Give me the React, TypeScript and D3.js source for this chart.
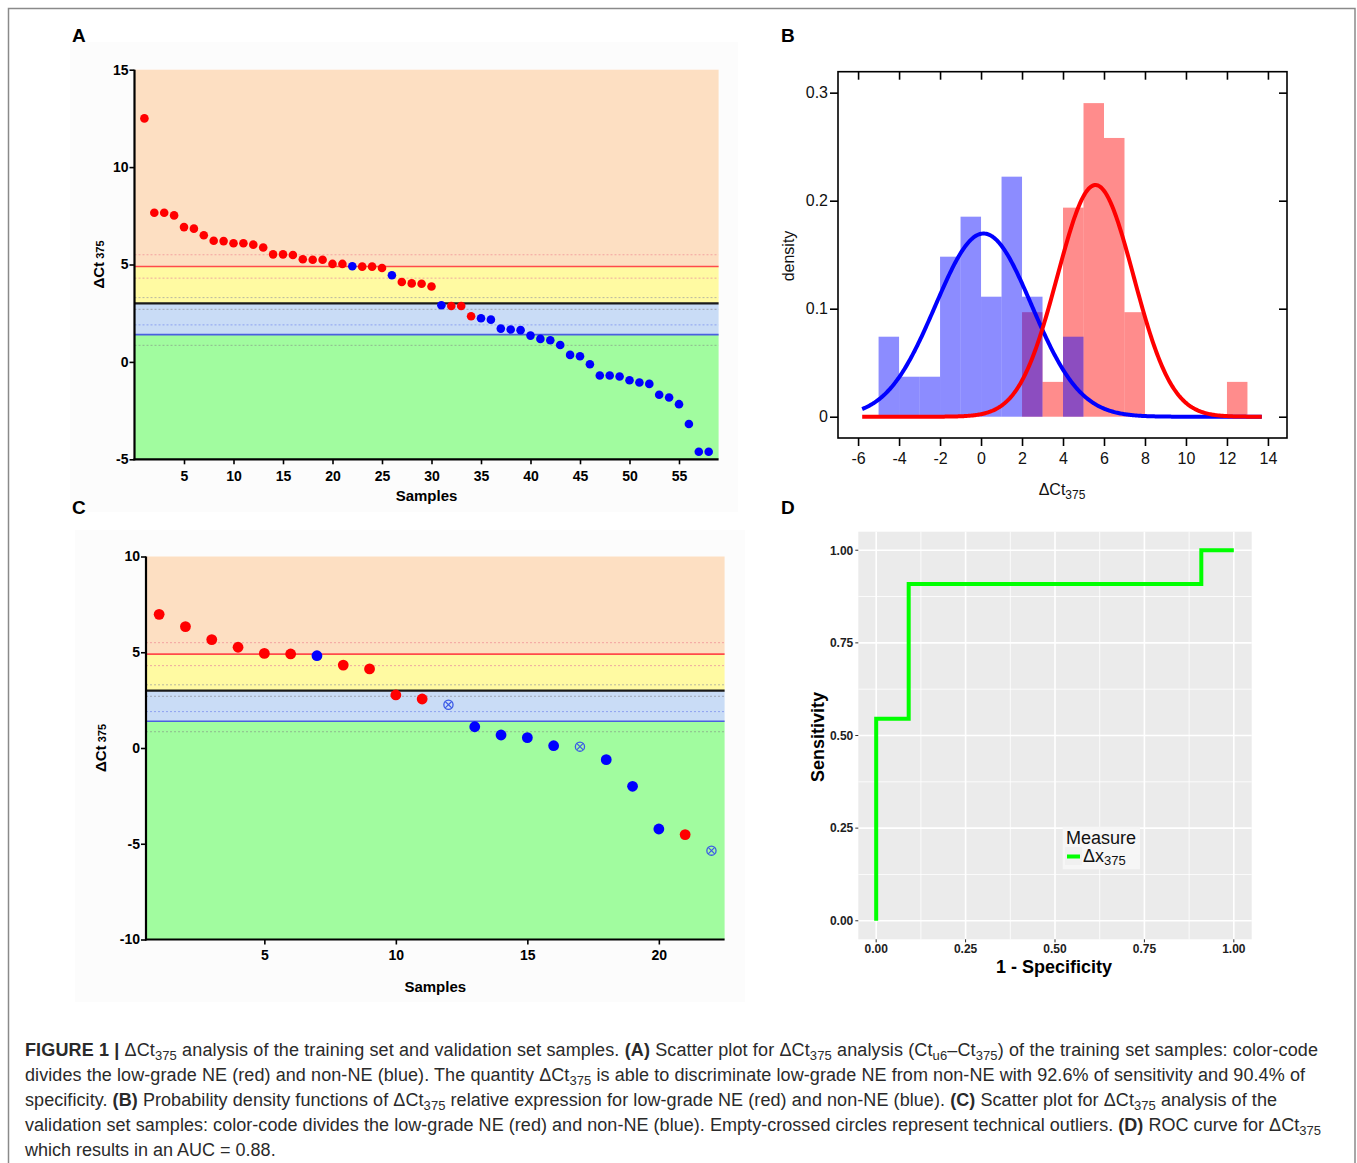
import React, { useEffect, useRef } from 'react'
import * as d3 from 'd3'

// panel A: training set, samples in plotted order (1 = low-grade NE, 0 = non-NE)
const trainValues = [12.5, 7.66, 7.66, 7.52, 6.92, 6.84, 6.5, 6.22, 6.2, 6.09, 6.09, 6.02, 5.87, 5.52, 5.52, 5.49,
  5.27, 5.24, 5.24, 5.03, 5.03, 4.91, 4.89, 4.89, 4.82, 4.45, 4.1, 4.03, 4.01, 3.87, 2.91, 2.87, 2.87, 2.34, 2.24,
  2.17, 1.71, 1.66, 1.63, 1.35, 1.18, 1.11, 0.87, 0.36, 0.29, -0.12, -0.7, -0.7, -0.75, -0.94, -1.06, -1.13, -1.69,
  -1.83, -2.17, -3.19, -4.61, -4.61]
const trainNE = [1, 1, 1, 1, 1, 1, 1, 1, 1, 1, 1, 1, 1, 1, 1, 1, 1, 1, 1, 1, 1, 0, 1, 1, 1, 0, 1, 1, 1, 1, 0, 1, 1, 1,
  0, 0, 0, 0, 0, 0, 0, 0, 0, 0, 0, 0, 0, 0, 0, 0, 0, 0, 0, 0, 0, 0, 0, 0]

// panel C: validation set
const valValues = [6.98, 6.34, 5.66, 5.26, 4.94, 4.91, 4.82, 4.33, 4.13, 2.77, 2.56, 2.26, 1.11, 0.68, 0.54, 0.12,
  0.07, -0.61, -2.0, -4.23, -4.52, -5.36]
const valClass = ['NE', 'NE', 'NE', 'NE', 'NE', 'NE', 'non', 'NE', 'NE', 'NE', 'NE', 'out', 'non', 'non', 'non', 'non',
  'out', 'non', 'non', 'non', 'NE', 'out']

// panel D: ROC steps
const rocFpr = [0, 0, 0.0909, 0.0909, 0.9091, 0.9091, 1]
const rocTpr = [0, 0.5455, 0.5455, 0.9091, 0.9091, 1, 1]

// cut-offs shared by A and C
const cutHigh = 4.9
const cutMain = 3.0
const cutLow = 1.4
const dottedLevels = [5.5, 4.3, 3.3, 2.7, 1.9, 0.85]
const dottedColors = ['#f3a3a0', '#eea8a0', '#b8b8a0', '#a0a6b4', '#8ea2f0', '#8fb98f']

const aXTicks = [5, 10, 15, 20, 25, 30, 35, 40, 45, 50, 55]
const aYTicks = [-5, 0, 5, 10, 15]
const cXTicks = [5, 10, 15, 20]
const cYTicks = [-10, -5, 0, 5, 10]
const bXTicks = [-6, -4, -2, 0, 2, 4, 6, 8, 10, 12, 14]
const bYTicks = [0, 0.1, 0.2, 0.3]
const dTicks = [0, 0.25, 0.5, 0.75, 1]
const dMinor = [0.125, 0.375, 0.625, 0.875]

const FONT = "'Liberation Sans', Arial, Helvetica, sans-serif"

type Seg = [string, string?]
const caption: Seg[][] = [
  [['FIGURE 1 |', 'b'], [' ΔCt'], ['375', 's'], [' analysis of the training set and validation set samples. '], ['(A)', 'b'],
    [' Scatter plot for ΔCt'], ['375', 's'], [' analysis (Ct'], ['u6', 's'], ['–Ct'], ['375', 's'],
    [') of the training set samples: color-code']],
  [['divides the low-grade NE (red) and non-NE (blue). The quantity ΔCt'], ['375', 's'],
    [' is able to discriminate low-grade NE from non-NE with 92.6% of sensitivity and 90.4% of']],
  [['specificity. '], ['(B)', 'b'], [' Probability density functions of ΔCt'], ['375', 's'],
    [' relative expression for low-grade NE (red) and non-NE (blue). '], ['(C)', 'b'], [' Scatter plot for ΔCt'],
    ['375', 's'], [' analysis of the']],
  [['validation set samples: color-code divides the low-grade NE (red) and non-NE (blue). Empty-crossed circles represent technical outliers. '],
    ['(D)', 'b'], [' ROC curve for ΔCt'], ['375', 's']],
  [['which results in an AUC = 0.88.']],
]
const captionWidths = [1293, 1280, 1252, 1296, 0]

function richText(sel: any, segs: Seg[], size: number, subSize: number, shift: number) {
  let prev = 0
  segs.forEach(([t, k]) => {
    const cur = k === 's' ? shift : 0
    sel.append('tspan')
      .attr('dy', cur - prev)
      .attr('font-size', k === 's' ? subSize : size)
      .attr('font-weight', k === 'b' ? 'bold' : 'normal')
      .text(t)
    prev = cur
  })
}

function drawScatter(svg: any, o: any) {
  const { x, y, values, color, xTicks, yTicks, r, labelX, samplesY, tickPad } = o
  const [x0, x1] = x.range()
  const [yb, yt] = y.range()
  const g = svg.append('g')

  g.append('rect').attr('x', o.bg[0]).attr('y', o.bg[1]).attr('width', o.bg[2]).attr('height', o.bg[3]).attr('fill', '#fcfcfc')

  const bands = [
    { from: y.domain()[1], to: cutHigh, fill: '#fddfc2' },
    { from: cutHigh, to: cutMain, fill: '#fffaa2' },
    { from: cutMain, to: cutLow, fill: '#c9dcf6' },
    { from: cutLow, to: y.domain()[0], fill: '#a1fc9f' },
  ]
  g.selectAll('rect.band').data(bands).join('rect')
    .attr('x', x0).attr('width', x1 - x0)
    .attr('y', (d: any) => y(d.from)).attr('height', (d: any) => y(d.to) - y(d.from))
    .attr('fill', (d: any) => d.fill)

  g.selectAll('line.dotted').data(dottedLevels).join('line')
    .attr('x1', x0).attr('x2', x1).attr('y1', (d: number) => y(d)).attr('y2', (d: number) => y(d))
    .attr('stroke', (_: any, i: number) => dottedColors[i]).attr('stroke-width', 1).attr('stroke-dasharray', '2,2')

  const solid = [{ v: cutHigh, c: '#ff4b4b', w: 1.6 }, { v: cutMain, c: '#1a1a1a', w: 2.2 }, { v: cutLow, c: '#4a5fe0', w: 1.6 }]
  g.selectAll('line.solid').data(solid).join('line')
    .attr('x1', x0).attr('x2', x1).attr('y1', (d: any) => y(d.v)).attr('y2', (d: any) => y(d.v))
    .attr('stroke', (d: any) => d.c).attr('stroke-width', (d: any) => d.w)

  values.forEach((v: number, i: number) => {
    const cx = x(i + 1), cy = y(v)
    const c = color(i)
    if (c === 'out') {
      g.append('circle').attr('cx', cx).attr('cy', cy).attr('r', r - 0.8).attr('fill', 'none')
        .attr('stroke', '#3b5ae6').attr('stroke-width', 1.3)
      const k = (r - 0.8) * 0.7
      g.append('path').attr('d', `M${cx - k},${cy - k}L${cx + k},${cy + k}M${cx - k},${cy + k}L${cx + k},${cy - k}`)
        .attr('stroke', '#3b5ae6').attr('stroke-width', 1.2)
    } else {
      g.append('circle').attr('cx', cx).attr('cy', cy).attr('r', r).attr('fill', c)
    }
  })

  const ay = g.append('g').attr('transform', `translate(${x0},0)`)
    .call(d3.axisLeft(y).tickValues(yTicks).tickSize(5).tickSizeOuter(0).tickPadding(1).tickFormat((d: any) => String(d)))
  const ax = g.append('g').attr('transform', `translate(0,${yb})`)
    .call(d3.axisBottom(x).tickValues(xTicks).tickSize(5).tickSizeOuter(0).tickPadding(tickPad).tickFormat((d: any) => String(d)))
  ;[ay, ax].forEach((a: any) => {
    a.select('.domain').attr('stroke', '#000').attr('stroke-width', 2.2)
    a.selectAll('.tick line').attr('stroke', '#000').attr('stroke-width', 1.6)
    a.selectAll('text').attr('font-family', FONT).attr('font-weight', 'bold').attr('font-size', 14).attr('fill', '#000')
  })
  ay.select('.domain').attr('d', `M0,${yb + 1}V${yt}`)
  ax.select('.domain').attr('d', `M${x0 - 1},0H${x1}`)

  const yl = g.append('text').attr('transform', `translate(${labelX},${(yb + yt) / 2}) rotate(-90)`)
    .attr('text-anchor', 'middle').attr('font-family', FONT).attr('font-weight', 'bold').attr('fill', '#000')
  yl.append('tspan').attr('font-size', 15).text('ΔCt')
  yl.append('tspan').attr('font-size', 11).text(' 375')

  g.append('text').attr('x', (x0 + x1) / 2).attr('y', samplesY).attr('text-anchor', 'middle')
    .attr('font-family', FONT).attr('font-weight', 'bold').attr('font-size', 15).text('Samples')
}

export default function App() {
  const svgRef = useRef<SVGSVGElement>(null)

  useEffect(() => {
    const svg = d3.select(svgRef.current)
    svg.selectAll('*').remove()

    svg.append('rect').attr('x', 8.5).attr('y', 8.5).attr('width', 1346.5).attr('height', 1170)
      .attr('fill', '#fff').attr('stroke', '#8a8a8a').attr('stroke-width', 1.5)

    // ---- A
    const xA = d3.scaleLinear().domain([0, 59]).range([134.5, 718.6])
    const yA = d3.scaleLinear().domain([-5, 15]).range([459.3, 69.7])
    drawScatter(svg, {
      x: xA, y: yA, values: trainValues, color: (i: number) => (trainNE[i] ? '#ff0000' : '#0000ff'),
      xTicks: aXTicks, yTicks: aYTicks, r: 4.3, labelX: 104, samplesY: 501, tickPad: 7,
      bg: [70, 42, 668, 470],
    })

    // ---- C
    const xC = d3.scaleLinear().domain([0.5, 22.5]).range([146, 724.6])
    const yC = d3.scaleLinear().domain([-10, 10]).range([939.5, 556.5])
    drawScatter(svg, {
      x: xC, y: yC, values: valValues,
      color: (i: number) => (valClass[i] === 'NE' ? '#ff0000' : valClass[i] === 'non' ? '#0000ff' : 'out'),
      xTicks: cXTicks, yTicks: cYTicks, r: 5.4, labelX: 106, samplesY: 992, tickPad: 6,
      bg: [75, 530, 670, 472],
    })

    // ---- B
    const xB = d3.scaleLinear().domain([-6.98, 14.93]).range([838, 1287])
    const yB = d3.scaleLinear().domain([-0.0197, 0.3194]).range([438, 71.7])
    const gB = svg.append('g')
    const neVals = trainValues.filter((_, i) => trainNE[i] === 1)
    const nonVals = trainValues.filter((_, i) => trainNE[i] === 0)
    const binner = d3.bin().domain([-5, 14]).thresholds(d3.range(-5, 14, 1))
    const hist = (vals: number[], fill: string) => {
      const bs = binner(vals).filter((b) => b.length > 0)
      gB.append('g').selectAll('rect').data(bs).join('rect')
        .attr('x', (b: any) => xB(b.x0)).attr('width', (b: any) => xB(b.x1) - xB(b.x0))
        .attr('y', (b: any) => yB(b.length / vals.length))
        .attr('height', (b: any) => yB(0) - yB(b.length / vals.length))
        .attr('fill', fill)
    }
    hist(neVals, 'rgba(255,0,0,0.45)')
    hist(nonVals, 'rgba(0,0,255,0.45)')

    const grid = d3.range(-5.8, 13.72, 0.05)
    const curve = (vals: number[], stroke: string) => {
      const m = d3.mean(vals) as number
      const s = d3.deviation(vals) as number
      const pdf = (t: number) => Math.exp(-0.5 * ((t - m) / s) ** 2) / (s * Math.sqrt(2 * Math.PI))
      gB.append('path').datum(grid)
        .attr('d', d3.line<number>().x((t) => xB(t)).y((t) => yB(pdf(t))))
        .attr('fill', 'none').attr('stroke', stroke).attr('stroke-width', 4)
    }
    curve(nonVals, '#0000ff')
    curve(neVals, '#ff0000')

    gB.append('rect').attr('x', 838).attr('y', 71.7).attr('width', 449).attr('height', 366.3)
      .attr('fill', 'none').attr('stroke', '#000').attr('stroke-width', 1.6)
    const fmt = (d: any) => String(d)
    const bAxes = [
      gB.append('g').attr('transform', 'translate(838,0)')
        .call(d3.axisLeft(yB).tickValues(bYTicks).tickSize(8).tickSizeOuter(0).tickPadding(2).tickFormat(fmt)),
      gB.append('g').attr('transform', 'translate(0,438)')
        .call(d3.axisBottom(xB).tickValues(bXTicks).tickSize(8).tickSizeOuter(0).tickPadding(7).tickFormat(fmt)),
      gB.append('g').attr('transform', 'translate(0,71.7)')
        .call(d3.axisTop(xB).tickValues(bXTicks).tickSize(-8).tickSizeOuter(0).tickFormat(() => '')),
      gB.append('g').attr('transform', 'translate(1287,0)')
        .call(d3.axisRight(yB).tickValues(bYTicks).tickSize(-8).tickSizeOuter(0).tickFormat(() => '')),
    ]
    bAxes.forEach((a: any) => {
      a.select('.domain').remove()
      a.selectAll('.tick line').attr('stroke', '#000').attr('stroke-width', 1.6)
      a.selectAll('text').attr('font-family', FONT).attr('font-size', 16).attr('fill', '#111')
    })
    gB.append('text').attr('transform', 'translate(794,256) rotate(-90)').attr('text-anchor', 'middle')
      .attr('font-family', FONT).attr('font-size', 16).attr('fill', '#111').text('density')
    const bx = gB.append('text').attr('x', 1062).attr('y', 495).attr('text-anchor', 'middle')
      .attr('font-family', FONT).attr('fill', '#111')
    richText(bx, [['ΔCt'], ['375', 's']], 16, 12, 4)

    // ---- D
    const xD = d3.scaleLinear().domain([-0.05, 1.05]).range([858.3, 1251.7])
    const yD = d3.scaleLinear().domain([-0.05, 1.05]).range([939.3, 531.7])
    const gD = svg.append('g')
    const [dx0, dx1] = xD.range()
    const [dy0, dy1] = yD.range()
    gD.append('rect').attr('x', dx0).attr('y', dy1).attr('width', dx1 - dx0).attr('height', dy0 - dy1).attr('fill', '#ebebeb')
    const gridLines = (vals: number[], w: number) => {
      gD.append('g').selectAll('line').data(vals).join('line')
        .attr('x1', (d) => xD(d)).attr('x2', (d) => xD(d)).attr('y1', dy0).attr('y2', dy1)
        .attr('stroke', '#fff').attr('stroke-width', w)
      gD.append('g').selectAll('line').data(vals).join('line')
        .attr('y1', (d) => yD(d)).attr('y2', (d) => yD(d)).attr('x1', dx0).attr('x2', dx1)
        .attr('stroke', '#fff').attr('stroke-width', w)
    }
    gridLines(dMinor, 0.8)
    gridLines(dTicks, 1.6)
    gD.append('path').datum(rocFpr.map((f, i) => [f, rocTpr[i]] as [number, number]))
      .attr('d', d3.line().x((p) => xD(p[0])).y((p) => yD(p[1])))
      .attr('fill', 'none').attr('stroke', '#00ff00').attr('stroke-width', 4).attr('stroke-linejoin', 'miter')

    const fmt2 = d3.format('.2f')
    gD.append('g').selectAll('line').data(dTicks).join('line')
      .attr('x1', dx0 - 3).attr('x2', dx0).attr('y1', (d) => yD(d)).attr('y2', (d) => yD(d)).attr('stroke', '#333')
    gD.append('g').selectAll('text').data(dTicks).join('text')
      .attr('x', dx0 - 5).attr('y', (d) => yD(d)).attr('dy', '0.36em').attr('text-anchor', 'end')
      .attr('font-family', FONT).attr('font-weight', 'bold').attr('font-size', 12).attr('fill', '#1e1e1e')
      .text((d) => fmt2(d))
    gD.append('g').selectAll('line').data(dTicks).join('line')
      .attr('y1', dy0).attr('y2', dy0 + 3).attr('x1', (d) => xD(d)).attr('x2', (d) => xD(d)).attr('stroke', '#333')
    gD.append('g').selectAll('text').data(dTicks).join('text')
      .attr('x', (d) => xD(d)).attr('y', 953).attr('text-anchor', 'middle')
      .attr('font-family', FONT).attr('font-weight', 'bold').attr('font-size', 12).attr('fill', '#1e1e1e')
      .text((d) => fmt2(d))
    gD.append('text').attr('x', 1054).attr('y', 973).attr('text-anchor', 'middle')
      .attr('font-family', FONT).attr('font-weight', 'bold').attr('font-size', 18).text('1 - Specificity')
    gD.append('text').attr('transform', 'translate(824,737) rotate(-90)').attr('text-anchor', 'middle')
      .attr('font-family', FONT).attr('font-weight', 'bold').attr('font-size', 18).text('Sensitivity')

    const lg = gD.append('g')
    lg.append('rect').attr('x', 1062.7).attr('y', 826.7).attr('width', 77.3).attr('height', 42.6).attr('fill', '#f6f6f6')
    lg.append('text').attr('x', 1066).attr('y', 843.5).attr('font-family', FONT).attr('font-size', 18)
      .attr('fill', '#111').text('Measure')
    lg.append('rect').attr('x', 1065).attr('y', 847).attr('width', 17).attr('height', 18).attr('fill', '#f0f0f0')
    lg.append('line').attr('x1', 1067).attr('x2', 1080).attr('y1', 856.5).attr('y2', 856.5)
      .attr('stroke', '#00ff00').attr('stroke-width', 4)
    const lt = lg.append('text').attr('x', 1083).attr('y', 862).attr('font-family', FONT).attr('fill', '#111')
    richText(lt, [['Δx'], ['375', 's']], 18, 13, 3)

    // ---- panel letters
    const letters = [['A', 72, 42], ['B', 781, 42], ['C', 72, 514], ['D', 781, 514]]
    svg.append('g').selectAll('text').data(letters).join('text')
      .attr('x', (d: any) => d[1]).attr('y', (d: any) => d[2])
      .attr('font-family', FONT).attr('font-weight', 'bold').attr('font-size', 19).text((d: any) => d[0])

    // ---- caption
    caption.forEach((segs, i) => {
      const t = svg.append('text').attr('x', 25).attr('y', 1056 + i * 25)
        .attr('font-family', FONT).attr('fill', '#2a2a2a')
      if (captionWidths[i]) t.attr('textLength', captionWidths[i]).attr('lengthAdjust', 'spacing')
      richText(t, segs, 18, 13, 4)
    })
  }, [])

  return (
    <svg ref={svgRef} width={1357} height={1163}
      style={{ position: 'absolute', left: 0, top: 0, background: '#fff', display: 'block' }} />
  )
}
